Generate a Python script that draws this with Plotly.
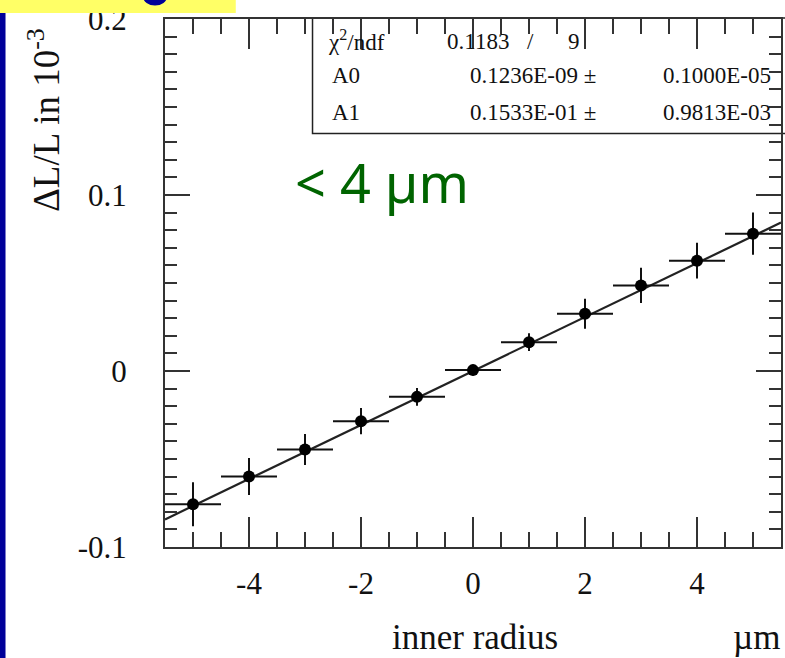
import numpy as np
import plotly.graph_objects as go

# ---- data ----
x_vals = [-5, -4, -3, -2, -1, 0, 1, 2, 3, 4, 5]
y_vals = [-0.0757, -0.0599, -0.0446, -0.0285, -0.0147, 0.0005, 0.0164, 0.0325, 0.0486, 0.0627, 0.0780]
x_err = [0.5, 0.5, 0.5, 0.5, 0.5, 0.5, 0.5, 0.5, 0.5, 0.5, 0.5]
y_err = [0.0125, 0.0105, 0.0088, 0.0075, 0.005, 0.003, 0.005, 0.0085, 0.010, 0.0102, 0.012]

fit_names = ["A0", "A1"]
fit_values = [0.1236e-09, 0.1533e-01]
fit_value_labels = ["0.1236E-09 \u00b1", "0.1533E-01 \u00b1"]
fit_error_labels = ["0.1000E-05", "0.9813E-03"]
chi2_label = "0.1183"
ndf_label = "9"

x_range = [-5.5, 5.5]
y_range = [-0.1, 0.2]
x_tickvals = [-4, -2, 0, 2, 4]
x_ticktext = ["-4", "-2", "0", "2", "4"]
y_tickvals = [-0.1, 0, 0.1, 0.2]
y_ticktext = ["-0.1", "0", "0.1", "0.2"]

# ---- layout geometry (pixels) ----
W, H = 785, 658
L, R, T, B = 165, 2, 17, 111
PW = W - L - R
PH = H - T - B


def px(x):
    return (x - L) / PW


def py(y):
    return (H - B - y) / PH


SERIF = "Liberation Serif, Times New Roman, serif"
INK = "#222222"

fig = go.Figure()

# fit line from parameters
xf = np.array(x_range)
yf = fit_values[0] + fit_values[1] * xf
fig.add_trace(go.Scatter(x=xf, y=yf, mode="lines",
                         line=dict(color=INK, width=2.2), showlegend=False, hoverinfo="skip"))

# data points
fig.add_trace(go.Scatter(
    x=x_vals, y=y_vals, mode="markers",
    marker=dict(color="black", size=12),
    error_x=dict(type="data", array=x_err, color="#111111", thickness=2, width=0),
    error_y=dict(type="data", array=y_err, color="#111111", thickness=2, width=0),
    showlegend=False,
))

axis_common = dict(
    showline=True, linecolor="#333333", linewidth=2,
    ticks="inside", tickcolor="#333333", tickwidth=2,
    mirror="ticks", showgrid=False, zeroline=False,
    ticklabeloverflow="allow",
    tickfont=dict(family=SERIF, size=31, color="#111111"),
)

fig.update_xaxes(range=x_range, tickmode="array", tickvals=x_tickvals, ticktext=x_ticktext,
                 ticklen=30, ticklabelstandoff=8,
                 minor=dict(dtick=0.5, tick0=0, ticklen=15, ticks="inside",
                            tickcolor="#333333", tickwidth=2, showgrid=False),
                 **axis_common)
fig.update_yaxes(range=[y_range[0] - 1e-6, y_range[1] + 1e-6], tickmode="array",
                 tickvals=y_tickvals, ticktext=y_ticktext,
                 ticklen=25, ticklabelstandoff=30,
                 minor=dict(dtick=0.01, tick0=0, ticklen=12, ticks="inside",
                            tickcolor="#333333", tickwidth=2, showgrid=False),
                 **axis_common)

shapes = [
    # stats box
    dict(type="rect", xref="paper", yref="paper", x0=px(313), x1=px(790), y0=py(132), y1=py(16),
         line=dict(color="#222222", width=1.5), fillcolor="rgba(0,0,0,0)", layer="below"),
    # yellow title strip (cut off)
    dict(type="rect", xref="paper", yref="paper", x0=px(-5), x1=px(236), y0=py(11), y1=py(-5),
         line=dict(width=0), fillcolor="#FFFF66", layer="above"),
    # blue letter remnant
    dict(type="circle", xref="paper", yref="paper", x0=px(143), x1=px(167), y0=py(3.5), y1=py(-14),
         line=dict(width=0), fillcolor="#000099", layer="above"),
    # blue left strip
    dict(type="rect", xref="paper", yref="paper", x0=px(-5), x1=px(5), y0=py(665), y1=py(11),
         line=dict(width=0), fillcolor="#000099", layer="above"),
]
fig.update_layout(shapes=shapes)

ann = []
STAT = dict(family=SERIF, size=23, color="#111111")
ann.append(dict(text="\u03c7<sup>2</sup>/ndf", x=px(327), y=py(39), xanchor="left", font=STAT))
ann.append(dict(text=chi2_label, x=px(446), y=py(40), xanchor="left", font=STAT))
ann.append(dict(text="/", x=px(532), y=py(40), xanchor="center", font=STAT))
ann.append(dict(text=ndf_label, x=px(567), y=py(40), xanchor="left", font=STAT))
row_y = [74, 111]
for name, val, err, ry in zip(fit_names, fit_value_labels, fit_error_labels, row_y):
    ann.append(dict(text=name, x=px(331), y=py(ry), xanchor="left", font=STAT))
    ann.append(dict(text=val, x=px(469), y=py(ry), xanchor="left", font=STAT))
    ann.append(dict(text=err, x=px(775), y=py(ry), xanchor="right", font=STAT))

# axis titles
ann.append(dict(text="\u0394L/L in 10<sup>-3</sup>", x=px(44), y=py(118), textangle=-90,
                xanchor="center", font=dict(family=SERIF, size=37, color="#111111")))
ann.append(dict(text="inner radius", x=px(476), y=py(638), xanchor="center",
                font=dict(family=SERIF, size=35, color="#111111")))
ann.append(dict(text="\u00b5m", x=px(784), y=py(638), xanchor="right",
                font=dict(family=SERIF, size=35, color="#111111")))

# green note
ann.append(dict(text="< 4 \u00b5m", x=px(383), y=py(181), xanchor="center",
                font=dict(family="Noto Sans, DejaVu Sans, sans-serif", size=54, color="#006400")))

for a in ann:
    a.setdefault("xref", "paper")
    a.setdefault("yref", "paper")
    a.setdefault("yanchor", "middle")
    a.setdefault("showarrow", False)
fig.update_layout(annotations=ann)

fig.update_layout(
    width=W, height=H,
    margin=dict(l=L, r=R, t=T, b=B, pad=0),
    paper_bgcolor="white", plot_bgcolor="white",
    showlegend=False,
)

fig.write_html("out.html")
